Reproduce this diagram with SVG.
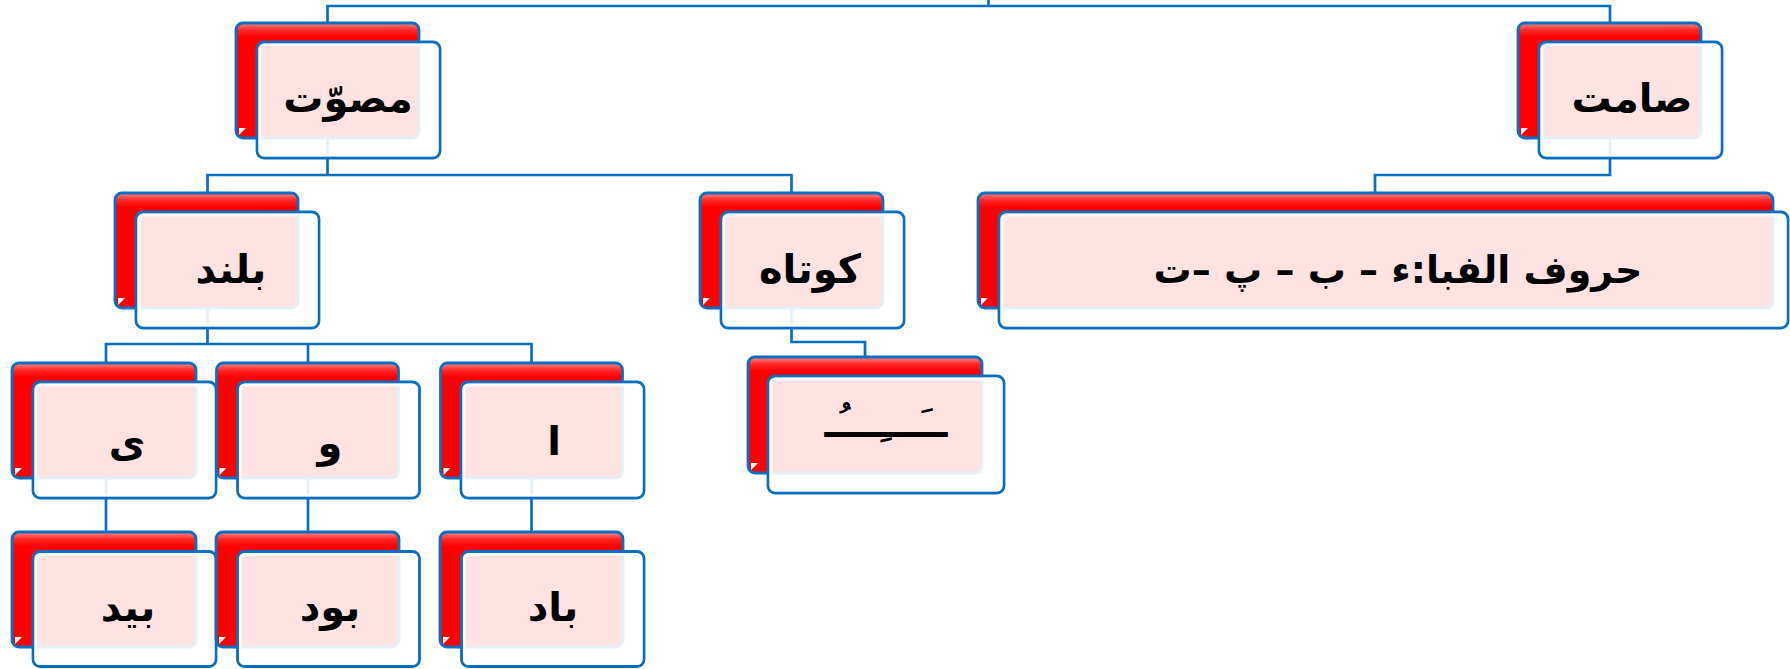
<svg xmlns="http://www.w3.org/2000/svg" width="1790" height="669" viewBox="0 0 1790 669">
<defs>
<linearGradient id="redGloss" x1="0" y1="0" x2="0" y2="1">
<stop offset="0" stop-color="#ff8a8a"/>
<stop offset="0.06" stop-color="#ff2a2a"/>
<stop offset="0.12" stop-color="#ff0000"/>
<stop offset="1" stop-color="#ff0000"/>
</linearGradient>
<style>
.back{fill:url(#redGloss);stroke:#0b6fc0;stroke-width:2.8}
.front{fill:#ffffff;fill-opacity:0.89;stroke:#0b6fc0;stroke-width:2.8}
.inner{fill:none;stroke:#ffffff;stroke-opacity:0.75;stroke-width:3}
.corner{fill:#ffffff}
.lbl{font-family:"DejaVu Sans",sans-serif;font-weight:bold;font-size:40px;fill:#000;text-anchor:middle;direction:rtl}
.conn{fill:none;stroke:#0b6fc0;stroke-width:2.7}
</style>
</defs>
<rect width="1790" height="669" fill="#ffffff"/>
<g id="connectors" class="conn">
<path d="M988.5,0 V6 M327.5,24 V6 H1610 V24"/>
<path d="M327.5,136 V175 M207.5,194 V175 H791.5 V194"/>
<path d="M1610,136 V175 H1375 V194"/>
<path d="M207.5,306 V344 M106,364 V344 H531.5 V364 M308,344 V364"/>
<path d="M791.5,306 V342 H865 V358"/>
<path d="M106,476 V533 M308,476 V533 M531.5,476 V533"/>
</g>
<g id="node-mosavvat">
<rect class="back" x="236" y="23" width="183" height="115" rx="7"/>
<path class="corner" d="M239,135 V128 H246 Z"/>
<rect class="front" x="257" y="42" width="183" height="116" rx="7"/>
<rect class="inner" x="260" y="45" width="177" height="110" rx="5"/>
<text class="lbl" x="348" y="112">مصوّت</text>
</g>
<g id="node-samet">
<rect class="back" x="1518" y="23" width="183" height="115" rx="7"/>
<path class="corner" d="M1521,135 V128 H1528 Z"/>
<rect class="front" x="1539" y="42" width="183" height="116" rx="7"/>
<rect class="inner" x="1542" y="45" width="177" height="110" rx="5"/>
<text class="lbl" x="1632" y="112">صامت</text>
</g>
<g id="node-boland">
<rect class="back" x="115" y="193" width="183" height="115" rx="7"/>
<path class="corner" d="M118,305 V298 H125 Z"/>
<rect class="front" x="136" y="212" width="183" height="116" rx="7"/>
<rect class="inner" x="139" y="215" width="177" height="110" rx="5"/>
<text class="lbl" x="231" y="283">بلند</text>
</g>
<g id="node-kutah">
<rect class="back" x="700" y="193" width="183" height="115" rx="7"/>
<path class="corner" d="M703,305 V298 H710 Z"/>
<rect class="front" x="721" y="212" width="183" height="116" rx="7"/>
<rect class="inner" x="724" y="215" width="177" height="110" rx="5"/>
<text class="lbl" x="810" y="283">کوتاه</text>
</g>
<g id="node-horuf">
<rect class="back" x="978" y="193" width="795" height="115" rx="7"/>
<path class="corner" d="M981,305 V298 H988 Z"/>
<rect class="front" x="999" y="212" width="789" height="116" rx="7"/>
<rect class="inner" x="1002" y="215" width="783" height="110" rx="5"/>
<text class="lbl" x="1398" y="283" style="font-size:38px">حروف الفبا:ء – ب – پ –ت</text>
</g>
<g id="node-short">
<rect class="back" x="748" y="357" width="234" height="116" rx="7"/>
<path class="corner" d="M751,470 V463 H758 Z"/>
<rect class="front" x="768" y="376" width="236" height="117" rx="7"/>
<rect class="inner" x="771" y="379" width="230" height="111" rx="5"/>
<text class="lbl" x="886" y="437">ــَـــِـــُـ</text>
</g>
<g id="node-ye">
<rect class="back" x="12" y="363" width="184" height="115" rx="7"/>
<path class="corner" d="M15,475 V468 H22 Z"/>
<rect class="front" x="33" y="382" width="183" height="116" rx="7"/>
<rect class="inner" x="36" y="385" width="177" height="110" rx="5"/>
<text class="lbl" x="127" y="457">ی</text>
</g>
<g id="node-vav">
<rect class="back" x="216.5" y="363" width="182" height="115" rx="7"/>
<path class="corner" d="M219.5,475 V468 H226.5 Z"/>
<rect class="front" x="237.5" y="382" width="182" height="116" rx="7"/>
<rect class="inner" x="240.5" y="385" width="176" height="110" rx="5"/>
<text class="lbl" x="330" y="457">و</text>
</g>
<g id="node-alef">
<rect class="back" x="440.5" y="363" width="182" height="115" rx="7"/>
<path class="corner" d="M443.5,475 V468 H450.5 Z"/>
<rect class="front" x="461" y="382" width="183" height="116" rx="7"/>
<rect class="inner" x="464" y="385" width="177" height="110" rx="5"/>
<text class="lbl" x="554" y="455">ا</text>
</g>
<g id="node-bid">
<rect class="back" x="12" y="532" width="184" height="115" rx="7"/>
<path class="corner" d="M15,644 V637 H22 Z"/>
<rect class="front" x="33" y="551.5" width="183" height="115" rx="7"/>
<rect class="inner" x="36" y="554.5" width="177" height="109" rx="5"/>
<text class="lbl" x="128" y="621">بید</text>
</g>
<g id="node-bud">
<rect class="back" x="216" y="532" width="183" height="115" rx="7"/>
<path class="corner" d="M219,644 V637 H226 Z"/>
<rect class="front" x="237.5" y="551.5" width="182" height="115" rx="7"/>
<rect class="inner" x="240.5" y="554.5" width="176" height="109" rx="5"/>
<text class="lbl" x="330" y="621">بود</text>
</g>
<g id="node-bad">
<rect class="back" x="440" y="532" width="183" height="115" rx="7"/>
<path class="corner" d="M443,644 V637 H450 Z"/>
<rect class="front" x="461.5" y="551.5" width="182.5" height="115" rx="7"/>
<rect class="inner" x="464.5" y="554.5" width="176.5" height="109" rx="5"/>
<text class="lbl" x="553" y="621">باد</text>
</g>
</svg>
